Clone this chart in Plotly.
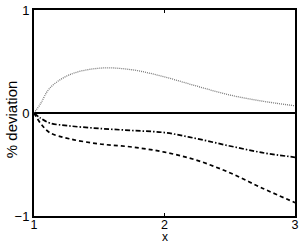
import plotly.graph_objects as go

x_vals = [1.0, 1.05, 1.12, 1.27, 1.5, 1.75, 2.0, 2.25, 2.5, 2.75, 3.0]
dotted_vals = [0.0, 0.09, 0.24, 0.37, 0.435, 0.42, 0.35, 0.26, 0.175, 0.115, 0.07]
dashdot_vals = [0.0, -0.05, -0.097, -0.125, -0.15, -0.17, -0.19, -0.25, -0.32, -0.385, -0.43]
dashed_vals = [0.0, -0.1, -0.19, -0.25, -0.3, -0.33, -0.38, -0.46, -0.58, -0.73, -0.87]
zero_vals = [0.0, 0.0]
zero_x = [1.0, 3.0]

x_ticks = [1, 2, 3]
y_ticks = [-1, 0, 1]
y_ticklabels = ["\u22121", "0", "1"]

FONT = "Liberation Sans, Arial, sans-serif"

fig = go.Figure()
fig.add_trace(go.Scatter(x=zero_x, y=zero_vals, mode="lines",
                         line=dict(color="black", width=2)))
fig.add_trace(go.Scatter(x=x_vals, y=dotted_vals, mode="lines", line_shape="spline",
                         line=dict(color="#7a7a7a", width=1.3, dash="1px,1px")))
fig.add_trace(go.Scatter(x=x_vals, y=dashdot_vals, mode="lines", line_shape="spline",
                         line=dict(color="black", width=1.7, dash="5px,2px,1.5px,2px")))
fig.add_trace(go.Scatter(x=x_vals, y=dashed_vals, mode="lines", line_shape="spline",
                         line=dict(color="black", width=1.7, dash="4px,3px")))

axis_common = dict(showgrid=False, zeroline=False, showline=True, linecolor="black",
                   linewidth=2, mirror="ticks", ticks="inside", ticklen=3,
                   tickcolor="black", tickwidth=1.2, automargin=False)

fig.update_layout(
    width=303, height=245,
    margin=dict(l=34, r=8, t=10, b=29),
    paper_bgcolor="white", plot_bgcolor="white",
    showlegend=False,
    font=dict(family=FONT, size=13, color="black"),
    xaxis=dict(range=[0.9999, 3.0001], tickvals=x_ticks, ticktext=[str(t) for t in x_ticks],
               ticklabelstandoff=-4, tickfont=dict(family=FONT, size=12.5, color="black"),
               **axis_common),
    yaxis=dict(range=[-1, 1], tickvals=y_ticks, ticktext=y_ticklabels,
               tickfont=dict(family=FONT, size=13, color="black"), **axis_common),
    annotations=[
        dict(text="x", xref="paper", yref="paper", x=0.5, y=(216 - 245) / 206,
             xanchor="center", yanchor="bottom", showarrow=False, borderpad=0,
             font=dict(family=FONT, size=12, color="black")),
        dict(text="% deviation", xref="paper", yref="paper", x=(11 - 34) / 261, y=0.47,
             xanchor="center", yanchor="middle", textangle=-90, showarrow=False,
             font=dict(family=FONT, size=15, color="black")),
    ],
)

fig.write_html("out.html", config={"displayModeBar": False},
               post_script="document.body.style.margin='0';document.body.style.overflow='hidden';")
